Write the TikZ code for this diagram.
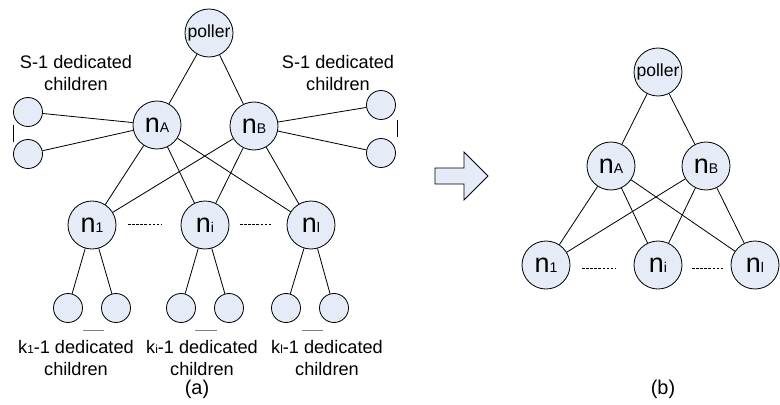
\documentclass[tikz,border=0pt]{standalone}
\usepackage{fontspec}
\setmainfont{Liberation Sans}
\usepackage{xcolor}
\usetikzlibrary{positioning}

\definecolor{nodefill}{RGB}{230,236,247}

% node label: big n with a small index
\newcommand{\nlab}[1]{{\fontsize{23}{23}\selectfont n}{\fontsize{12}{12}\selectfont #1}}
\newcommand{\kidx}[1]{{\fontsize{10}{10}\selectfont #1}}

\tikzset{
  bignode/.style={circle, draw, fill=nodefill, line width=0.7pt, minimum size=48*0.3mm, inner sep=0pt},
  leafnode/.style={circle, draw, fill=nodefill, line width=0.7pt, minimum size=29*0.3mm, inner sep=0pt},
  lbl/.style={align=center, font=\fontsize{15.5}{18.5}\selectfont},
  sublabel/.style={font=\fontsize{17}{17}\selectfont},
  link/.style={line width=0.7pt},
  dotline/.style={line width=0.7pt, dash pattern=on 2.2pt off 1.3pt},
  gapline/.style={line width=0.8pt, gray}
}

\begin{document}
\begin{tikzpicture}[x=0.3mm, y=-0.3mm]
\useasboundingbox (0,0) rectangle (780,404);

% (a) full tree
\node[bignode] (P) at (209,33) {\fontsize{15}{15}\selectfont poller};
\node[bignode] (A) at (157,125) {\nlab{A}};
\node[bignode] (B) at (254,126) {\nlab{B}};
\node[bignode] (N1) at (92,225) {\nlab{1}};
\node[bignode] (Ni) at (205,225) {\nlab{i}};
\node[bignode] (Nl) at (311,225) {\nlab{l}};

% dedicated children of nA and nB
\node[leafnode] (SA1) at (28,112) {};
\node[leafnode] (SA2) at (28,154) {};
\node[leafnode] (SB1) at (381,105) {};
\node[leafnode] (SB2) at (381,153) {};
\node[lbl] (SAlab) at (76,73) {S-1 dedicated\\children};
\node[lbl] (SBlab) at (338,73) {S-1 dedicated\\children};

% dedicated children of the lower nodes
\node[leafnode] (K11) at (68,308) {};
\node[leafnode] (K12) at (116,308) {};
\node[leafnode] (Ki1) at (181,308) {};
\node[leafnode] (Ki2) at (229,308) {};
\node[leafnode] (Kl1) at (286,308) {};
\node[leafnode] (Kl2) at (334,308) {};
\node[lbl] (K1lab) at (76,358) {k\kidx{1}-1 dedicated\\children};
\node[lbl] (Kilab) at (202,358) {k\kidx{i}-1 dedicated\\children};
\node[lbl] (Kllab) at (327,358) {k\kidx{l}-1 dedicated\\children};
\node[sublabel] (capa) at (197,389) {(a)};

\draw[link] (P) -- (A);
\draw[link] (P) -- (B);
\foreach \n in {N1,Ni,Nl} {
  \draw[link] (A) -- (\n);
  \draw[link] (B) -- (\n);
}
\draw[link] (A) -- (SA1);
\draw[link] (A) -- (SA2);
\draw[link] (B) -- (SB1);
\draw[link] (B) -- (SB2);
\draw[link] (N1) -- (K11);
\draw[link] (N1) -- (K12);
\draw[link] (Ni) -- (Ki1);
\draw[link] (Ni) -- (Ki2);
\draw[link] (Nl) -- (Kl1);
\draw[link] (Nl) -- (Kl2);

\draw[dotline] (128,224) -- (161,224);
\draw[dotline] (240,224) -- (272,224);
\draw[link] (13,125) -- (13,142);
\draw[link] (397,120) -- (397,137);
\draw[gapline] (83,330) -- (104,330);
\draw[gapline] (195,330) -- (217,330);
\draw[gapline] (302,330) -- (323,330);

% block arrow
\draw[line width=0.7pt, fill=nodefill] (435,168) -- (464,168) -- (464,152) -- (488,176)
  -- (464,200) -- (464,184) -- (435,184) -- cycle;

% (b) reduced tree
\node[bignode] (Pb) at (658,72) {\fontsize{15}{15}\selectfont poller};
\node[bignode] (Ab) at (611,166) {\nlab{A}};
\node[bignode] (Bb) at (706,166) {\nlab{B}};
\node[bignode] (N1b) at (546,265) {\nlab{1}};
\node[bignode] (Nib) at (658,265) {\nlab{i}};
\node[bignode] (Nlb) at (755,265) {\nlab{l}};
\node[sublabel] (capb) at (663,389) {(b)};

\draw[link] (Pb) -- (Ab);
\draw[link] (Pb) -- (Bb);
\foreach \n in {N1b,Nib,Nlb} {
  \draw[link] (Ab) -- (\n);
  \draw[link] (Bb) -- (\n);
}
\draw[dotline] (582,268) -- (615,268);
\draw[dotline] (692,268) -- (723,268);
\end{tikzpicture}
\end{document}
